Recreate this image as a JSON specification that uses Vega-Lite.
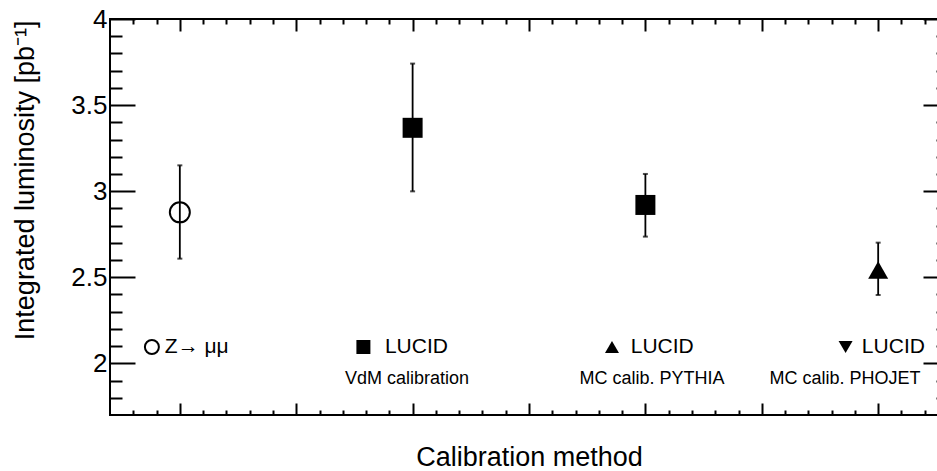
{
  "$schema": "https://vega.github.io/schema/vega-lite/v6.json",
  "width": 838,
  "height": 396,
  "autosize": "none",
  "padding": {"left": 110, "top": 19, "right": -11, "bottom": 56},
  "background": "white",
  "config": {
    "view": {"stroke": "black", "strokeWidth": 2},
    "font": "Liberation Sans",
    "axis": {
      "domain": false,
      "grid": false,
      "tickColor": "black",
      "tickWidth": 2,
      "labelColor": "black",
      "labelFont": "Liberation Sans",
      "titleFont": "Liberation Sans",
      "titleFontWeight": "normal",
      "titleColor": "black",
      "labelFlush": false,
      "labelOverlap": false
    }
  },
  "datasets": {
    "points": [
      {"method": "Z→μμ", "x": 1, "y": 2.877, "lo": 2.608, "hi": 3.15},
      {"method": "LUCID VdM calibration", "x": 2, "y": 3.368, "lo": 2.999, "hi": 3.741},
      {"method": "LUCID MC calib. PYTHIA", "x": 3, "y": 2.92, "lo": 2.736, "hi": 3.1},
      {"method": "LUCID MC calib. PHOJET", "x": 4, "y": 2.542, "lo": 2.397, "hi": 2.701}
    ],
    "symbols": [
      {"x": 1, "y": 2.877, "marker": "open circle", "role": "data"},
      {"x": 2, "y": 3.368, "marker": "full square", "role": "data"},
      {"x": 3, "y": 2.92, "marker": "full square", "role": "data"},
      {"x": 4, "y": 2.542, "marker": "full triangle up", "role": "data"},
      {"x": 0.88, "y": 2.095, "marker": "open circle", "role": "legend"},
      {"x": 1.7886, "y": 2.095, "marker": "full square", "role": "legend"},
      {"x": 2.8565, "y": 2.095, "marker": "full triangle up", "role": "legend"},
      {"x": 3.86, "y": 2.095, "marker": "full triangle down", "role": "legend"}
    ],
    "labels": [
      {"x": 0.9355, "y": 2.095, "text": "Z→ μμ", "kind": "main"},
      {"x": 1.881, "y": 2.095, "text": "LUCID", "kind": "main"},
      {"x": 2.937, "y": 2.095, "text": "LUCID", "kind": "main"},
      {"x": 3.93, "y": 2.095, "text": "LUCID", "kind": "main"},
      {"x": 1.9755, "y": 1.907, "text": "VdM calibration", "kind": "sub"},
      {"x": 3.028, "y": 1.907, "text": "MC calib. PYTHIA", "kind": "sub"},
      {"x": 3.858, "y": 1.907, "text": "MC calib. PHOJET", "kind": "sub"}
    ]
  },
  "resolve": {"axis": {"x": "independent", "y": "independent"}},
  "layer": [
    {
      "data": {"name": "points"},
      "mark": {"type": "rule", "color": "black", "strokeWidth": 1.8},
      "encoding": {
        "x": {
          "field": "x", "type": "quantitative",
          "scale": {"domain": [0.7, 4.3], "nice": false, "zero": false},
          "axis": {
            "orient": "bottom",
            "values": [1, 1.5, 2, 2.5, 3, 3.5, 4],
            "tickSize": -12,
            "labels": false,
            "title": "Calibration method",
            "titleFontSize": 27,
            "titleY": 50,
            "titleBaseline": "alphabetic"
          }
        },
        "y": {
          "field": "lo", "type": "quantitative",
          "scale": {"domain": [1.7, 4], "nice": false, "zero": false},
          "axis": {
            "orient": "left",
            "values": [2, 2.5, 3, 3.5, 4],
            "format": "~g",
            "tickSize": -25,
            "labelFontSize": 26,
            "labelPadding": 28,
            "title": "Integrated luminosity [pb⁻¹]",
            "titleFontSize": 27,
            "titleAngle": -90,
            "titleAlign": "right",
            "titleBaseline": "top",
            "titleX": -98,
            "titleY": 1
          }
        },
        "y2": {"field": "hi"}
      }
    },
    {
      "data": {"name": "points"},
      "mark": {"type": "tick", "orient": "horizontal", "color": "black", "size": 5, "thickness": 2},
      "encoding": {
        "x": {
          "field": "x", "type": "quantitative",
          "axis": {
            "orient": "bottom",
            "values": [0.8, 0.9, 1.1, 1.2, 1.3, 1.4, 1.6, 1.7, 1.8, 1.9, 2.1, 2.2, 2.3, 2.4, 2.6, 2.7, 2.8, 2.9, 3.1, 3.2, 3.3, 3.4, 3.6, 3.7, 3.8, 3.9, 4.1, 4.2],
            "tickSize": -5,
            "labels": false,
            "title": null
          }
        },
        "y": {
          "field": "lo", "type": "quantitative",
          "axis": {
            "orient": "left",
            "values": [1.8, 1.9, 2.1, 2.2, 2.3, 2.4, 2.6, 2.7, 2.8, 2.9, 3.1, 3.2, 3.3, 3.4, 3.6, 3.7, 3.8, 3.9],
            "tickSize": -12,
            "labels": false,
            "title": null
          }
        }
      }
    },
    {
      "data": {"name": "points"},
      "mark": {"type": "tick", "orient": "horizontal", "color": "black", "size": 5, "thickness": 2},
      "encoding": {
        "x": {
          "field": "x", "type": "quantitative",
          "axis": {
            "orient": "top",
            "values": [1, 1.5, 2, 2.5, 3, 3.5, 4],
            "tickSize": -12,
            "labels": false,
            "title": null
          }
        },
        "y": {
          "field": "hi", "type": "quantitative",
          "axis": {
            "orient": "right",
            "values": [2, 2.5, 3, 3.5, 4],
            "tickSize": -25,
            "labels": false,
            "title": null
          }
        }
      }
    },
    {
      "data": {"name": "symbols"},
      "transform": [{"filter": "datum.marker === 'open circle'"}],
      "mark": {"type": "point", "shape": "circle", "filled": false, "stroke": "black", "strokeWidth": 2, "opacity": 1},
      "encoding": {
        "x": {
          "field": "x", "type": "quantitative",
          "axis": {
            "orient": "top",
            "values": [0.8, 0.9, 1.1, 1.2, 1.3, 1.4, 1.6, 1.7, 1.8, 1.9, 2.1, 2.2, 2.3, 2.4, 2.6, 2.7, 2.8, 2.9, 3.1, 3.2, 3.3, 3.4, 3.6, 3.7, 3.8, 3.9, 4.1, 4.2],
            "tickSize": -5,
            "labels": false,
            "title": null
          }
        },
        "y": {
          "field": "y", "type": "quantitative",
          "axis": {
            "orient": "right",
            "values": [1.8, 1.9, 2.1, 2.2, 2.3, 2.4, 2.6, 2.7, 2.8, 2.9, 3.1, 3.2, 3.3, 3.4, 3.6, 3.7, 3.8, 3.9],
            "tickSize": -12,
            "labels": false,
            "title": null
          }
        },
        "size": {
          "field": "role", "type": "nominal",
          "scale": {"domain": ["data", "legend"], "range": [400, 196]},
          "legend": null
        }
      }
    },
    {
      "data": {"name": "symbols"},
      "transform": [{"filter": "datum.marker !== 'open circle'"}],
      "mark": {"type": "point", "filled": true, "color": "black", "opacity": 1},
      "encoding": {
        "x": {"field": "x", "type": "quantitative", "axis": null},
        "y": {"field": "y", "type": "quantitative", "axis": null},
        "shape": {
          "field": "marker", "type": "nominal",
          "scale": {"domain": ["full square", "full triangle up", "full triangle down"], "range": ["square", "triangle-up", "triangle-down"]},
          "legend": null
        },
        "size": {
          "field": "role", "type": "nominal",
          "scale": {"domain": ["data", "legend"], "range": [484, 250]},
          "legend": null
        }
      }
    },
    {
      "data": {"name": "labels"},
      "transform": [{"filter": "datum.kind === 'main'"}],
      "mark": {"type": "text", "align": "left", "baseline": "middle", "fontSize": 21, "color": "black", "font": "Liberation Sans"},
      "encoding": {
        "x": {"field": "x", "type": "quantitative", "axis": null},
        "y": {"field": "y", "type": "quantitative", "axis": null},
        "text": {"field": "text"}
      }
    },
    {
      "data": {"name": "labels"},
      "transform": [{"filter": "datum.kind === 'sub'"}],
      "mark": {"type": "text", "align": "center", "baseline": "middle", "fontSize": 18, "color": "black", "font": "Liberation Sans"},
      "encoding": {
        "x": {"field": "x", "type": "quantitative", "axis": null},
        "y": {"field": "y", "type": "quantitative", "axis": null},
        "text": {"field": "text"}
      }
    }
  ]
}
